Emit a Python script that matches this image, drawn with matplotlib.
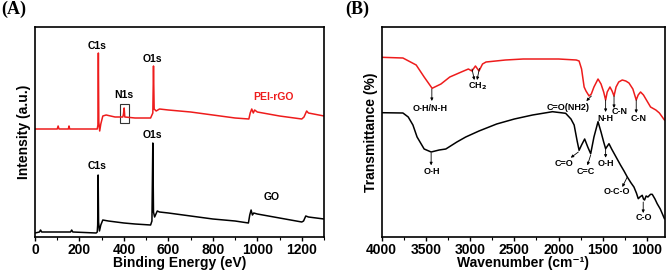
import matplotlib
matplotlib.use("Agg")
import matplotlib.pyplot as plt
from matplotlib.ticker import MultipleLocator

plt.rcParams['font.family'] = ['Liberation Sans', 'DejaVu Sans']
plt.rcParams['font.weight'] = 'bold'

# ---------------- Panel A: XPS survey ----------------
xps_pei_ev = [0, 20, 100, 104, 108, 150, 153, 156, 270, 280, 283, 285, 287, 291, 296, 305, 320, 360,
              395, 398, 401, 404, 450, 520, 530, 533, 536, 545, 560, 600, 700, 800, 900, 962, 968,
              975, 982, 988, 1000, 1100, 1200, 1210, 1222, 1230, 1300]
xps_pei_int = [108, 108, 108, 111, 108, 108, 111, 108, 108, 108, 112, 184, 115, 106, 113, 121, 122, 120,
               120, 123, 129, 120, 119, 119, 124, 171, 128, 126, 128, 127, 125, 122, 119, 118, 124,
               128, 124, 127, 125, 121, 118, 120, 126, 124, 121]

xps_go_ev = [0, 20, 25, 30, 160, 165, 170, 275, 280, 282, 284, 286, 290, 296, 305, 330, 400, 450, 520,
             526, 530, 533, 538, 550, 560, 600, 700, 800, 900, 960, 966, 972, 978, 984, 1000, 1100,
             1200, 1208, 1218, 1230, 1300]
xps_go_int = [4, 5, 7, 5, 5, 7, 5, 4, 5, 12, 62, 15, 6, 12, 17, 16, 14, 13, 12,
              16, 94, 25, 20, 26, 25, 24, 21, 18, 16, 14, 22, 27, 22, 24, 23, 19,
              15, 16, 21, 20, 18]

xps_xticks = [0, 200, 400, 600, 800, 1000, 1200]

# ---------------- Panel B: FTIR ----------------
ftir_pei_wn = [4000, 3760, 3610, 3520, 3430, 3330, 3230, 3100, 3020, 2980, 2940, 2900, 2860, 2820, 2600,
               2400, 2000, 1800, 1768, 1740, 1711, 1690, 1655, 1630, 1600, 1554, 1520, 1490, 1468,
               1450, 1419, 1395, 1373, 1350, 1320, 1280, 1240, 1204, 1160, 1122, 1100, 1073, 1040,
               1000, 960, 900, 860, 803]
ftir_pei_t = [179.7, 179, 172, 160, 148.7, 153, 160, 165, 168, 166, 171, 166, 173, 175, 177,
              178, 178, 177, 176, 168, 150, 146, 141, 143, 150, 158, 153, 145, 137,
              145, 150, 146, 141, 150, 155, 157, 156, 154, 148, 137, 142, 145, 142,
              136, 130, 127, 124, 117]

ftir_go_wn = [4000, 3760, 3700, 3647, 3600, 3520, 3441, 3350, 3275, 3150, 3050, 2900, 2700, 2500, 2294,
              2069, 1920, 1860, 1824, 1790, 1768, 1740, 1705, 1670, 1637, 1600, 1554, 1520, 1490,
              1468, 1440, 1430, 1400, 1350, 1300, 1260, 1223, 1180, 1148, 1120, 1099, 1080, 1054,
              1040, 1028, 1010, 990, 960, 941, 910, 885, 850, 803]
ftir_go_t = [124.3, 124, 120, 112, 100, 88, 85, 87, 88, 95, 100, 106, 113, 118, 122,
             125.3, 123.7, 118, 112, 96, 86.7, 92, 98, 90, 83.3, 100, 115.3, 105, 95,
             88.3, 92, 93.3, 88, 80, 72, 66, 60, 54, 50, 44, 38.3, 40, 41.7,
             38, 37, 41, 40, 42.7, 42.7, 38, 33.3, 28, 18.3]

ftir_xticks = [4000, 3500, 3000, 2500, 2000, 1500, 1000]

RED = '#ee1c1c'

fig = plt.figure(figsize=(6.66, 2.74), dpi=100)
axA = fig.add_axes([35 / 666, 1 - 237 / 274, 289 / 666, 210 / 274])
axB = fig.add_axes([381.7 / 666, 1 - 237 / 274, 283 / 666, 210 / 274])

for ax in (axA, axB):
    for s in ax.spines.values():
        s.set_linewidth(1.2)
    ax.set_yticks([])
    ax.tick_params(axis='x', which='major', direction='out', length=3, width=1, labelsize=10, pad=1.5)
    ax.tick_params(axis='x', which='minor', direction='out', length=2, width=0.8)

# Panel A
axA.plot(xps_pei_ev, xps_pei_int, color=RED, lw=1.1)
axA.plot(xps_go_ev, xps_go_int, color='black', lw=1.1)
axA.set_xlim(0, 1300)
axA.set_ylim(0, 210)
axA.set_xticks(xps_xticks)
axA.xaxis.set_minor_locator(MultipleLocator(100))
axA.set_xlabel('Binding Energy (eV)', fontsize=10, fontweight='bold', labelpad=-1)
axA.set_ylabel('Intensity (a.u.)', fontsize=10, fontweight='bold', labelpad=3)

fsA = 7.5
axA.text(281, 190.7, 'C1s', ha='center', va='center', fontsize=fsA, fontweight='bold')
axA.text(527, 178.2, 'O1s', ha='center', va='center', fontsize=fsA, fontweight='bold')
axA.text(401, 141.5, 'N1s', ha='center', va='center', fontsize=fsA, fontweight='bold')
axA.text(1073, 140, 'PEI-rGO', ha='center', va='center', fontsize=fsA, fontweight='bold', color=RED)
axA.text(526, 102, 'O1s', ha='center', va='center', fontsize=fsA, fontweight='bold')
axA.text(278, 71, 'C1s', ha='center', va='center', fontsize=fsA, fontweight='bold')
axA.text(1063, 40.3, 'GO', ha='center', va='center', fontsize=fsA, fontweight='bold')
axA.add_patch(plt.Rectangle((383, 114.3), 37.7, 18.4, fill=False, ec='#333333', lw=0.8))

# Panel B
axB.plot(ftir_pei_wn, ftir_pei_t, color=RED, lw=1.1)
axB.plot(ftir_go_wn, ftir_go_t, color='black', lw=1.1)
axB.set_xlim(4000, 800)
axB.set_ylim(0, 210)
axB.set_xticks(ftir_xticks)
axB.xaxis.set_minor_locator(MultipleLocator(250))
axB.set_xlabel('Wavenumber (cm\u207b\u00b9)', fontsize=10, fontweight='bold', labelpad=-1)
axB.set_ylabel('Transmittance (%)', fontsize=10, fontweight='bold', labelpad=3)

fsB = 6.5
arrow_kw = dict(arrowstyle='-|>', color='black', lw=0.6, mutation_scale=4, shrinkA=0, shrinkB=0)


def note(ax, label, tx, ty, arrows):
    ax.text(tx, ty, label, ha='center', va='center', fontsize=fsB, fontweight='bold')
    for (x0, y0, x1, y1) in arrows:
        ax.annotate('', xy=(x1, y1), xytext=(x0, y0), arrowprops=arrow_kw)


note(axB, 'O-H/N-H', 3455, 128.5, [(3433, 148, 3433, 136)])
note(axB, 'CH$_\\mathbf{2}$', 2914, 151, [(2979, 168, 2952, 157), (2895, 168.7, 2922, 157)])
note(axB, 'C=O(NH2)', 1891, 129, [(1629, 141, 1686, 136)])
note(axB, 'N-H', 1471, 118.7, [(1468, 137, 1468, 125)])
note(axB, 'C-N', 1308, 125.3, [(1373, 141, 1373, 129)])
note(axB, 'C-N', 1094, 118.7, [(1122, 137, 1122, 124)])
note(axB, 'O-H', 3431, 66, [(3441, 84, 3441, 71.7)])
note(axB, 'C=O', 1940, 73, [(1776, 85, 1862, 79.3)])
note(axB, 'C=C', 1694, 66, [(1637, 82, 1674, 71.7)])
note(axB, 'O-H', 1468, 73, [(1468, 88, 1468, 79.3)])
note(axB, 'O-C-O', 1342, 45, [(1223, 60, 1279, 50)])
note(axB, 'C-O', 1037, 19, [(1043, 35, 1043, 24)])

fig.text(14 / 666, 1 - 9 / 274, '(A)', family='Liberation Serif', fontweight='bold', fontsize=13,
         ha='center', va='center')
fig.text(357 / 666, 1 - 9 / 274, '(B)', family='Liberation Serif', fontweight='bold', fontsize=13,
         ha='center', va='center')

fig.savefig('out.png', dpi=100)
